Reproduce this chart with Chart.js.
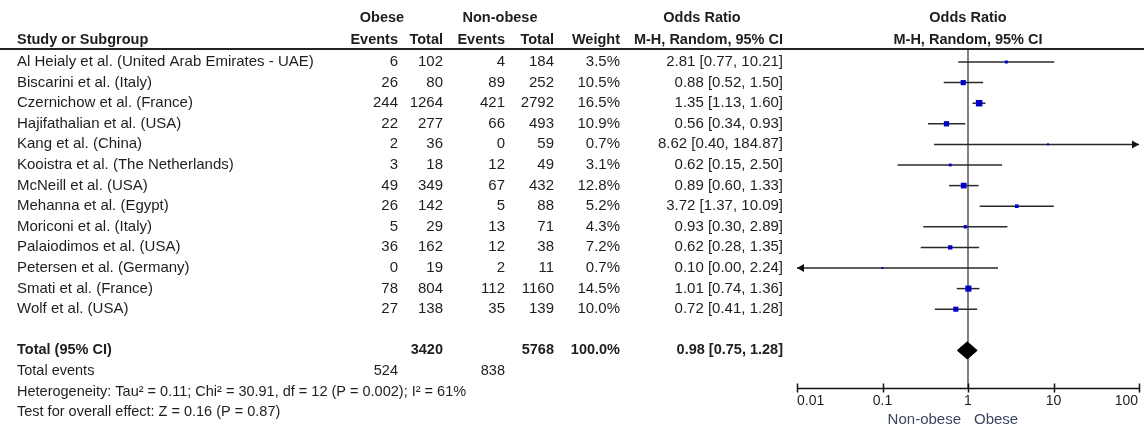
<!DOCTYPE html>
<html>
<head>
<meta charset="utf-8">
<script src="https://cdn.jsdelivr.net/npm/chart.js@4/dist/chart.umd.min.js"></script>
<style>
	body { margin: 0; background: #fff; }
	canvas { display: block; }
</style>
</head>
<body>
<canvas id="forest" width="1144" height="429"></canvas>
<script>
const studies = [
	'Al Heialy et al. (United Arab Emirates - UAE)',
	'Biscarini et al. (Italy)',
	'Czernichow et al. (France)',
	'Hajifathalian et al. (USA)',
	'Kang et al. (China)',
	'Kooistra et al. (The Netherlands)',
	'McNeill et al. (USA)',
	'Mehanna et al. (Egypt)',
	'Moriconi et al. (Italy)',
	'Palaiodimos et al. (USA)',
	'Petersen et al. (Germany)',
	'Smati et al. (France)',
	'Wolf et al. (USA)'
];
const obeseEvents = [6, 26, 244, 22, 2, 3, 49, 26, 5, 36, 0, 78, 27];
const obeseTotal = [102, 80, 1264, 277, 36, 18, 349, 142, 29, 162, 19, 804, 138];
const nonObeseEvents = [4, 89, 421, 66, 0, 12, 67, 5, 13, 12, 2, 112, 35];
const nonObeseTotal = [184, 252, 2792, 493, 59, 49, 432, 88, 71, 38, 11, 1160, 139];
const weights = [3.5, 10.5, 16.5, 10.9, 0.7, 3.1, 12.8, 5.2, 4.3, 7.2, 0.7, 14.5, 10.0];
const oddsRatio = [2.81, 0.88, 1.35, 0.56, 8.62, 0.62, 0.89, 3.72, 0.93, 0.62, 0.10, 1.01, 0.72];
const ciLow = [0.77, 0.52, 1.13, 0.34, 0.40, 0.15, 0.60, 1.37, 0.30, 0.28, 0.00, 0.74, 0.41];
const ciHigh = [10.21, 1.50, 1.60, 0.93, 184.87, 2.50, 1.33, 10.09, 2.89, 1.35, 2.24, 1.36, 1.28];

const pooled = [0.98, 0.75, 1.28]; // OR, low, high
const totalObese = 3420;
const totalNonObese = 5768;
const totalWeight = '100.0%';
const eventsObese = 524;
const eventsNonObese = 838;
const footerLines = [
	'Heterogeneity: Tau\u00b2 = 0.11; Chi\u00b2 = 30.91, df = 12 (P = 0.002); I\u00b2 = 61%',
	'Test for overall effect: Z = 0.16 (P = 0.87)'
];

const xTicks = [0.01, 0.1, 1, 10, 100];
const xTickLabels = ['0.01', '0.1', '1', '10', '100'];

// row layout (one row per line of the table)
const totalRow = 14;
const yMin = -0.631;
const yMax = 15.825;
const xMin = 0.01;
const xMax = 100;

const FONT = '"Liberation Sans", Arial, sans-serif';
const TEXT = '#1e1e1e';

// edges of the table columns
const col = { study: 17, oEv: 398, oTot: 443, nEv: 505, nTot: 554, weight: 620, or: 783 };

function fmtCI(o, l, h) {
	return o.toFixed(2) + ' [' + l.toFixed(2) + ', ' + h.toFixed(2) + ']';
}

const tablePlugin = {
	id: 'forestTable',
	afterDatasetsDraw(chart) {
		// arrow heads where the CI runs off the axis
		const ctx = chart.ctx;
		const x = chart.scales.x;
		const y = chart.scales.y;
		ctx.save();
		ctx.fillStyle = '#111';
		studies.forEach((s, i) => {
			const py = y.getPixelForValue(i);
			if (ciHigh[i] > xMax) {
				const px = x.getPixelForValue(xMax);
				ctx.beginPath();
				ctx.moveTo(px, py);
				ctx.lineTo(px - 7, py - 4);
				ctx.lineTo(px - 7, py + 4);
				ctx.closePath();
				ctx.fill();
			}
			if (ciLow[i] < xMin) {
				const px = x.getPixelForValue(xMin);
				ctx.beginPath();
				ctx.moveTo(px, py);
				ctx.lineTo(px + 7, py - 4);
				ctx.lineTo(px + 7, py + 4);
				ctx.closePath();
				ctx.fill();
			}
		});
		ctx.restore();
	},
	afterDraw(chart) {
		const ctx = chart.ctx;
		const x = chart.scales.x;
		const y = chart.scales.y;
		const area = chart.chartArea;
		const one = x.getPixelForValue(1);

		const text = (str, px, row, align, size, bold) => {
			ctx.font = (bold ? 'bold ' : '') + size + 'px ' + FONT;
			ctx.textAlign = align;
			ctx.fillText(str, px, Math.round(y.getPixelForValue(row)));
		};

		ctx.save();
		ctx.fillStyle = TEXT;
		ctx.textBaseline = 'middle';

		// header
		const h = 14.5;
		text('Obese', 382, -2.136, 'center', h, true);
		text('Non-obese', 500, -2.136, 'center', h, true);
		text('Odds Ratio', 702, -2.136, 'center', h, true);
		text('Odds Ratio', one, -2.136, 'center', h, true);
		text('Study or Subgroup', col.study, -1.068, 'left', h, true);
		text('Events', col.oEv, -1.068, 'right', h, true);
		text('Total', col.oTot, -1.068, 'right', h, true);
		text('Events', col.nEv, -1.068, 'right', h, true);
		text('Total', col.nTot, -1.068, 'right', h, true);
		text('Weight', col.weight, -1.068, 'right', h, true);
		text('M-H, Random, 95% CI', col.or, -1.068, 'right', h, true);
		text('M-H, Random, 95% CI', one, -1.068, 'center', h, true);

		ctx.strokeStyle = '#222';
		ctx.lineWidth = 2;
		ctx.beginPath();
		ctx.moveTo(0, area.top);
		ctx.lineTo(chart.width, area.top);
		ctx.stroke();

		// study rows
		const r = 15;
		studies.forEach((s, i) => {
			text(s, col.study, i, 'left', r);
			text(String(obeseEvents[i]), col.oEv, i, 'right', r);
			text(String(obeseTotal[i]), col.oTot, i, 'right', r);
			text(String(nonObeseEvents[i]), col.nEv, i, 'right', r);
			text(String(nonObeseTotal[i]), col.nTot, i, 'right', r);
			text(weights[i].toFixed(1) + '%', col.weight, i, 'right', r);
			text(fmtCI(oddsRatio[i], ciLow[i], ciHigh[i]), col.or, i, 'right', r);
		});

		// totals
		text('Total (95% CI)', col.study, totalRow, 'left', h, true);
		text(String(totalObese), col.oTot, totalRow, 'right', h, true);
		text(String(totalNonObese), col.nTot, totalRow, 'right', h, true);
		text(totalWeight, col.weight, totalRow, 'right', h, true);
		text(fmtCI(pooled[0], pooled[1], pooled[2]), col.or, totalRow, 'right', h, true);
		text('Total events', col.study, totalRow + 1, 'left', h);
		text(String(eventsObese), col.oEv, totalRow + 1, 'right', h);
		text(String(eventsNonObese), col.nEv, totalRow + 1, 'right', h);
		footerLines.forEach((line, k) => text(line, col.study, totalRow + 2 + k, 'left', h));

		// x axis
		const ay = Math.round(area.bottom) + 0.5;
		ctx.strokeStyle = '#111';
		ctx.lineWidth = 1.5;
		ctx.beginPath();
		ctx.moveTo(x.getPixelForValue(xMin), ay);
		ctx.lineTo(x.getPixelForValue(xMax), ay);
		xTicks.forEach(t => {
			const px = Math.round(x.getPixelForValue(t)) + 0.5;
			ctx.moveTo(px, ay - 5);
			ctx.lineTo(px, ay + 4);
		});
		ctx.stroke();

		ctx.font = '14px ' + FONT;
		xTicks.forEach((t, k) => {
			const px = x.getPixelForValue(t);
			const last = xTicks.length - 1;
			ctx.textAlign = k === 0 ? 'left' : (k === last ? 'right' : 'center');
			ctx.fillText(xTickLabels[k], k === last ? px - 1 : px, ay + 13);
		});

		ctx.font = '15px ' + FONT;
		ctx.fillStyle = '#3b4660';
		ctx.textAlign = 'right';
		ctx.fillText('Non-obese', one - 7, ay + 31);
		ctx.textAlign = 'left';
		ctx.fillText('Obese', one + 6, ay + 31);
		ctx.restore();
	}
};

function initChart() {
	const canvas = document.getElementById('forest');

	const squares = {
		data: studies.map((s, i) => ({ x: oddsRatio[i], y: i })),
		showLine: false,
		pointStyle: 'rect',
		pointRadius: weights.map(w => Math.max(1.6 * Math.sqrt(w), 2) / Math.SQRT2),
		pointBackgroundColor: '#0000c8',
		pointBorderWidth: 0,
		clip: false
	};

	const diamond = {
		data: [
			{ x: pooled[1], y: totalRow },
			{ x: pooled[0], y: totalRow - 0.42 },
			{ x: pooled[2], y: totalRow },
			{ x: pooled[0], y: totalRow + 0.42 },
			{ x: pooled[1], y: totalRow }
		],
		showLine: true,
		fill: 'shape',
		backgroundColor: '#000',
		borderColor: '#000',
		borderWidth: 1,
		pointRadius: 0
	};

	const ciLines = studies.map((s, i) => ({
		data: [
			{ x: Math.max(ciLow[i], xMin), y: i },
			{ x: Math.min(ciHigh[i], xMax), y: i }
		],
		showLine: true,
		borderColor: '#2a2a2a',
		borderWidth: 1.5,
		pointRadius: 0
	}));

	const refLine = {
		data: [{ x: 1, y: yMin }, { x: 1, y: yMax }],
		showLine: true,
		borderColor: '#808080',
		borderWidth: 2,
		pointRadius: 0
	};

	new Chart(canvas, {
		type: 'scatter',
		data: { datasets: [squares, diamond, ...ciLines, refLine] },
		options: {
			responsive: false,
			animation: false,
			devicePixelRatio: 1,
			layout: { padding: { left: 797, right: 5, top: 49, bottom: 41 } },
			elements: { line: { tension: 0 } },
			scales: {
				x: { type: 'logarithmic', min: xMin, max: xMax, display: false },
				y: { type: 'linear', min: yMin, max: yMax, reverse: true, display: false }
			},
			plugins: {
				legend: { display: false },
				tooltip: { enabled: false }
			}
		},
		plugins: [tablePlugin]
	});
}

if (document.readyState !== 'loading') {
	initChart();
} else {
	document.addEventListener('DOMContentLoaded', initChart);
}
</script>
</body>
</html>
